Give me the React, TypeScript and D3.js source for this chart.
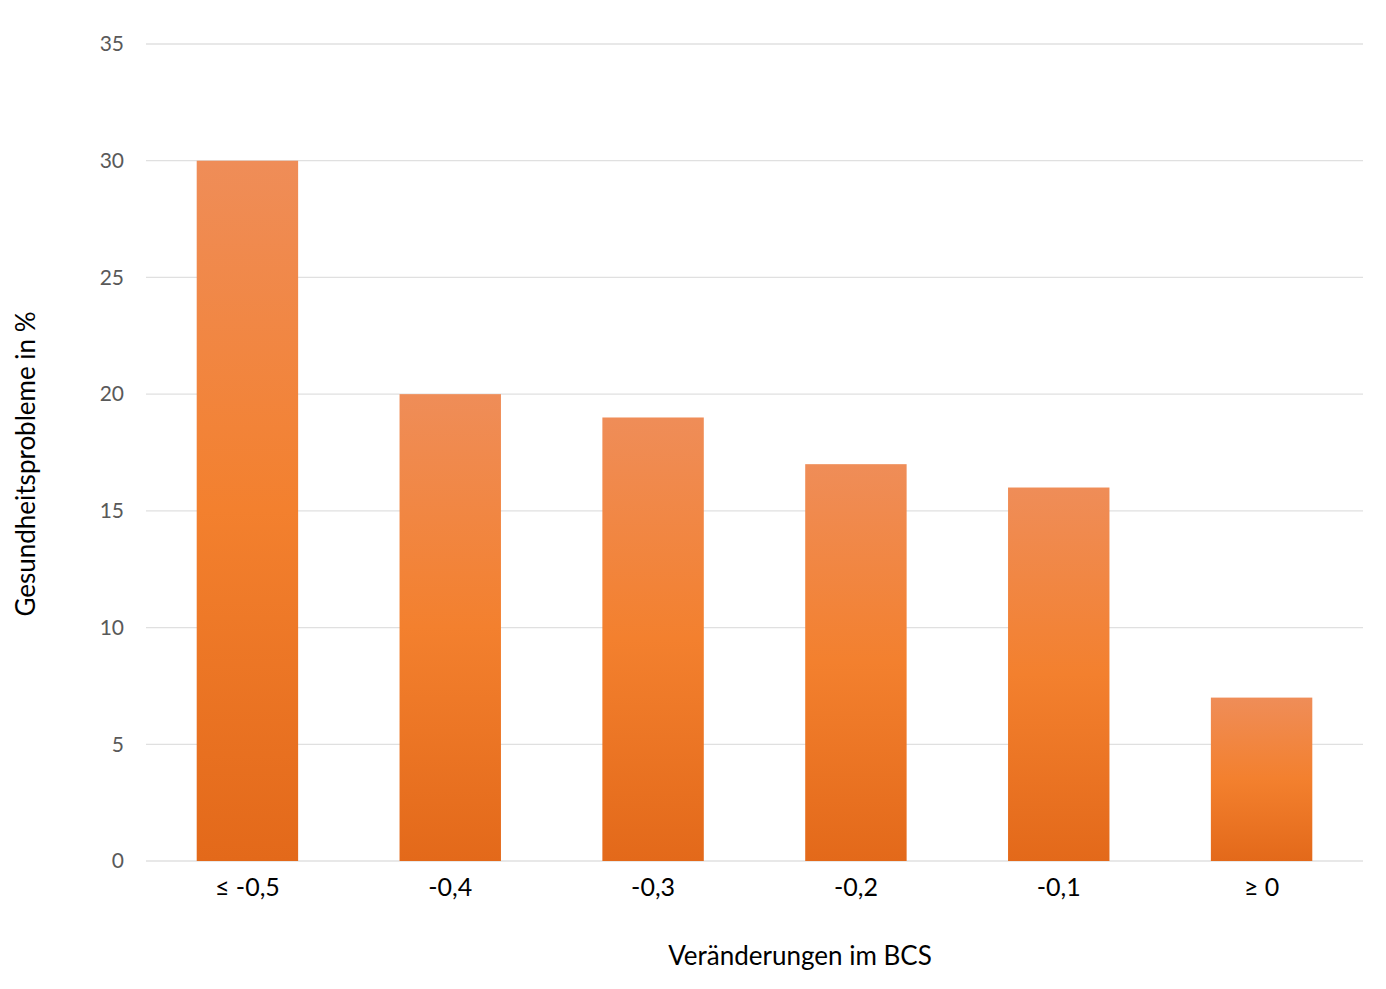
import React, { useRef, useEffect } from 'react';
import * as d3 from 'd3';

const categories = ['≤ -0,5', '-0,4', '-0,3', '-0,2', '-0,1', '≥ 0'];
const values = [30, 20, 19, 17, 16, 7];
const yTicks = [0, 5, 10, 15, 20, 25, 30, 35];

const W = 1386;
const H = 989;
const FONT = 'Lato, "Open Sans", sans-serif';

const App: React.FC = () => {
    const ref = useRef<SVGSVGElement>(null);

    useEffect(() => {
        if (!ref.current) return;
        const svg = d3.select(ref.current);
        svg.selectAll('*').remove();

        const left = 146, right = 1363, top = 44, bottom = 861;

        const x = d3.scaleBand<string>().domain(categories).range([left, right]).paddingInner(0.5).paddingOuter(0.25);
        const y = d3.scaleLinear().domain([0, 35]).range([bottom, top]);

        // bar gradient
        const defs = svg.append('defs');
        const grad = defs.append('linearGradient')
            .attr('id', 'barGrad')
            .attr('x1', 0).attr('y1', 0).attr('x2', 0).attr('y2', 1);
        grad.append('stop').attr('offset', '0%').attr('stop-color', '#ef8d58');
        grad.append('stop').attr('offset', '50%').attr('stop-color', '#f3802e');
        grad.append('stop').attr('offset', '100%').attr('stop-color', '#e3691a');

        // gridlines
        svg.append('g')
            .selectAll('line')
            .data(yTicks)
            .join('line')
            .attr('x1', left)
            .attr('x2', right)
            .attr('y1', d => y(d))
            .attr('y2', d => y(d))
            .attr('stroke', '#e0e0e0')
            .attr('stroke-width', 1.3);

        // y tick labels
        svg.append('g')
            .selectAll('text')
            .data(yTicks)
            .join('text')
            .attr('x', 124)
            .attr('y', d => y(d))
            .attr('dy', '0.35em')
            .attr('text-anchor', 'end')
            .attr('fill', '#595959')
            .style('font-family', FONT)
            .style('font-size', '21px')
            .text(d => d);

        // bars
        svg.append('g')
            .selectAll('rect')
            .data(values)
            .join('rect')
            .attr('x', (d, i) => x(categories[i])!)
            .attr('width', x.bandwidth())
            .attr('y', d => y(d))
            .attr('height', d => bottom - y(d))
            .attr('fill', 'url(#barGrad)');

        // x labels
        svg.append('g')
            .selectAll('text')
            .data(categories)
            .join('text')
            .attr('x', d => x(d)! + x.bandwidth() / 2)
            .attr('y', 896)
            .attr('text-anchor', 'middle')
            .attr('fill', '#000')
            .style('font-family', FONT)
            .style('font-size', '25px')
            .text(d => d);

        // axis titles
        svg.append('text')
            .attr('x', 800)
            .attr('y', 965)
            .attr('text-anchor', 'middle')
            .attr('fill', '#000')
            .style('font-family', FONT)
            .style('font-size', '26px')
            .text('Veränderungen im BCS');

        svg.append('text')
            .attr('transform', 'translate(35,464) rotate(-90)')
            .attr('text-anchor', 'middle')
            .attr('fill', '#000')
            .style('font-family', FONT)
            .style('font-size', '26px')
            .text('Gesundheitsprobleme in %');
    }, []);

    return (
        <svg
            ref={ref}
            width={W}
            height={H}
            style={{ position: 'absolute', top: 0, left: 0, background: '#fff' }}
        />
    );
};

export default App;
